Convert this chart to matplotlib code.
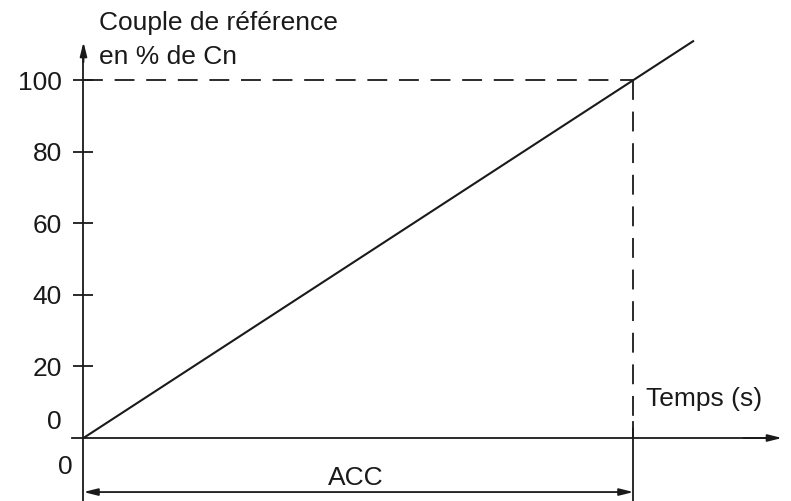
import matplotlib.pyplot as plt

plt.rcParams['font.family'] = ['Liberation Sans', 'DejaVu Sans']

# donnees
t_line = [0, 1.11]          # temps (en unites de ACC)
c_line = [0, 111]           # couple de reference en % de Cn
yticks = [20, 40, 60, 80, 100]
acc = 1.0
c_ref = 100

fig = plt.figure(figsize=(7.91, 5.01), dpi=100)
ax = fig.add_axes([0, 0, 1, 1])
ax.set_xlim(-0.1518, 1.2864)
ax.set_ylim(-17.6, 122.35)

k = '#1a1a1a'
lw = 1.3
fs = 19

# axes
ax.spines['top'].set_visible(False)
ax.spines['right'].set_visible(False)
ax.spines['left'].set_position(('data', 0))
ax.spines['bottom'].set_position(('data', 0))
ax.spines['left'].set_bounds(-17.6, 109)
ax.spines['bottom'].set_bounds(-0.0213, 1.25)
for s in ['left', 'bottom']:
    ax.spines[s].set_color(k)
    ax.spines[s].set_linewidth(lw)
ax.set_xticks([])
ax.set_yticks(yticks)
ax.tick_params(axis='y', direction='inout', length=15, width=lw, color=k,
               pad=8, labelsize=fs, labelcolor=k)

arr = dict(arrowstyle='-|>,head_length=0.6,head_width=0.15', color=k, lw=lw,
           mutation_scale=14, shrinkA=0, shrinkB=0)
ax.annotate('', xy=(0, 110.6), xytext=(0, 105), arrowprops=arr)
ax.annotate('', xy=(1.27, 0), xytext=(1.2, 0), arrowprops=arr)

# courbe
ax.plot(t_line, c_line, color=k, lw=lw + 0.2, solid_capstyle='butt')

# pointilles
ax.plot([0, acc], [c_ref, c_ref], color=k, lw=lw, dashes=(11, 6.5))
ax.plot([acc, acc], [c_ref, 0], color=k, lw=lw, dashes=(11, 6.5))
ax.plot([acc, acc], [4.5, -17.6], color=k, lw=lw)

# cote ACC
dim = dict(arrowstyle='<|-|>,head_length=0.6,head_width=0.15', color=k, lw=lw,
           mutation_scale=14, shrinkA=0, shrinkB=0)
ax.annotate('', xy=(0, -15.1), xytext=(acc, -15.1), arrowprops=dim)
ax.text(0.495, -13.1, 'ACC', fontsize=fs, color=k, ha='center', va='baseline')

# textes
ax.text(-0.039, 4.5, '0', fontsize=fs, color=k, ha='right', va='center')
ax.text(-0.02, -8.1, '0', fontsize=fs, color=k, ha='right', va='center')
ax.text(1.022, 8.9, 'Temps (s)', fontsize=fs, color=k, ha='left',
        va='baseline')
ax.text(0.028, 114, 'Couple de référence', fontsize=fs, color=k,
        ha='left', va='baseline')
ax.text(0.028, 104.5, 'en % de Cn', fontsize=fs, color=k,
        ha='left', va='baseline')

fig.savefig('out.png', dpi=100)
